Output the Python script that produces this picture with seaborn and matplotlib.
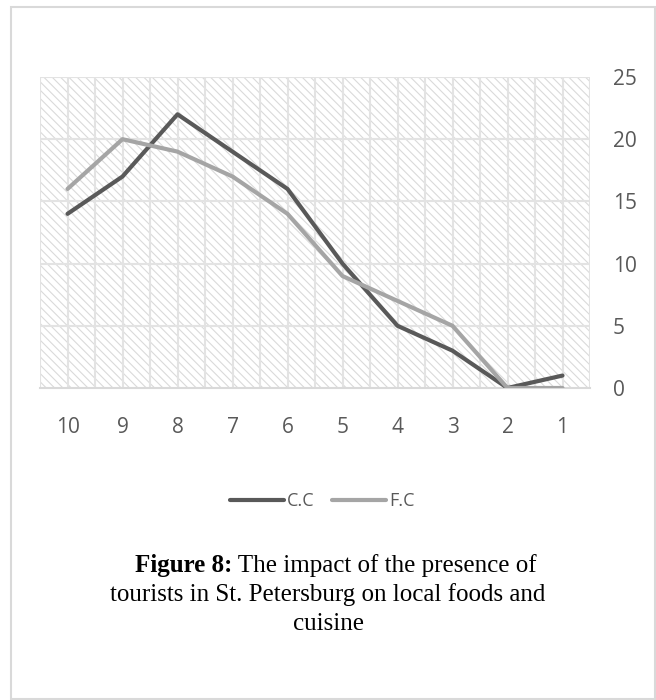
import matplotlib
matplotlib.use("Agg")
import matplotlib.pyplot as plt
import matplotlib.patches as mpatches
import seaborn as sns
import pandas as pd

# Ratings (10 = highest) and number of respondents in each group
ratings = ["10", "9", "8", "7", "6", "5", "4", "3", "2", "1"]
cc_counts = [14, 17, 22, 19, 16, 10, 5, 3, 0, 1]
fc_counts = [16, 20, 19, 17, 14, 9, 7, 5, 0, 0]
series_names = ["C.C", "F.C"]
y_ticks = [0, 5, 10, 15, 20, 25]

df = pd.concat([
    pd.DataFrame({"rating": ratings, "count": cc_counts, "group": series_names[0]}),
    pd.DataFrame({"rating": ratings, "count": fc_counts, "group": series_names[1]}),
])

sns.set_theme(style="white")
plt.rcParams["font.family"] = ["Open Sans", "DejaVu Sans"]
plt.rcParams["hatch.color"] = "#dadada"
plt.rcParams["hatch.linewidth"] = 0.8

W, H = 656, 700
fig = plt.figure(figsize=(W / 100, H / 100), dpi=100)
fig.patch.set_facecolor("white")

# plot area in pixels
L, R, T, B = 40, 590, 77, 388
ax = fig.add_axes([L / W, 1 - B / H, (R - L) / W, (B - T) / H])

ax.patch.set_facecolor("white")
ax.patch.set_hatch("\\\\\\\\")
ax.patch.set_edgecolor("#dadada")
ax.patch.set_linewidth(0)

palette = {"C.C": "#595959", "F.C": "#a5a5a5"}
sns.lineplot(data=df, x="rating", y="count", hue="group", palette=palette,
             sort=False, linewidth=3.0, ax=ax, legend=False, zorder=3)
for ln in ax.get_lines():
    ln.set_solid_joinstyle("round")
    ln.set_solid_capstyle("round")

n = len(ratings)
ax.set_xlim(-0.5, n - 0.5)
ax.set_ylim(0, 25)

# gridlines: horizontal at major ticks, vertical at category centres and edges
grid_c = "#e3e3e3"
for v in y_ticks[1:]:
    ax.axhline(v, color=grid_c, lw=1.5, zorder=1)
for i in range(2 * n + 1):
    ax.axvline(-0.5 + i * 0.5, color=grid_c, lw=1.5, zorder=1)

for s in ["top", "right", "left"]:
    ax.spines[s].set_visible(False)
ax.spines["bottom"].set_color("#d9d9d9")
ax.spines["bottom"].set_linewidth(1.5)
ax.spines["bottom"].set_zorder(2)

ax.set_xlabel("")
ax.set_ylabel("")
ax.set_xticks(range(n))
ax.set_xticklabels(ratings)
ax.set_yticks(y_ticks)
ax.yaxis.tick_right()
ax.tick_params(axis="both", length=0, labelsize=15, colors="#595959")
ax.tick_params(axis="x", pad=21)
ax.tick_params(axis="y", pad=16.5)
for lbl in ax.get_yticklabels():
    lbl.set_horizontalalignment("left")

handles = [plt.Line2D([], [], color=palette[s], lw=3.0, solid_capstyle="round")
           for s in series_names]
fig.legend(handles, series_names, loc="center", bbox_to_anchor=(322 / W, 1 - 501 / H),
           ncol=2, frameon=False, fontsize=13, handlelength=3.0, handletextpad=0.15,
           columnspacing=1.0, labelcolor="#595959")

# caption
serif = ["Liberation Serif", "DejaVu Serif"]
cap_size = 18
cx = 328 / W
fig.canvas.draw()
renderer = fig.canvas.get_renderer()
t1 = fig.text(0, 1 - 572 / H, "Figure 8:", family=serif, weight="bold", size=cap_size,
              va="baseline", ha="left", color="black")
t2 = fig.text(0, 1 - 572 / H, " The impact of the presence of", family=serif,
              size=cap_size, va="baseline", ha="left", color="black")
w1 = t1.get_window_extent(renderer).width
w2 = t2.get_window_extent(renderer).width
x0 = (336 - (w1 + w2) / 2) / W
t1.set_x(x0)
t2.set_x(x0 + w1 / W)
fig.text(cx, 1 - 601 / H, "tourists in St. Petersburg on local foods and", family=serif,
         size=cap_size, va="baseline", ha="center", color="black")
fig.text(cx, 1 - 630 / H, "cuisine", family=serif, size=cap_size, va="baseline",
         ha="center", color="black")

# outer frame
fig.patches.append(mpatches.Rectangle((11 / W, 1 - 699 / H), 644 / W, 692 / H,
                                      transform=fig.transFigure, fill=False,
                                      edgecolor="#d9d9d9", lw=1.5))

fig.savefig("out.png", dpi=100)
